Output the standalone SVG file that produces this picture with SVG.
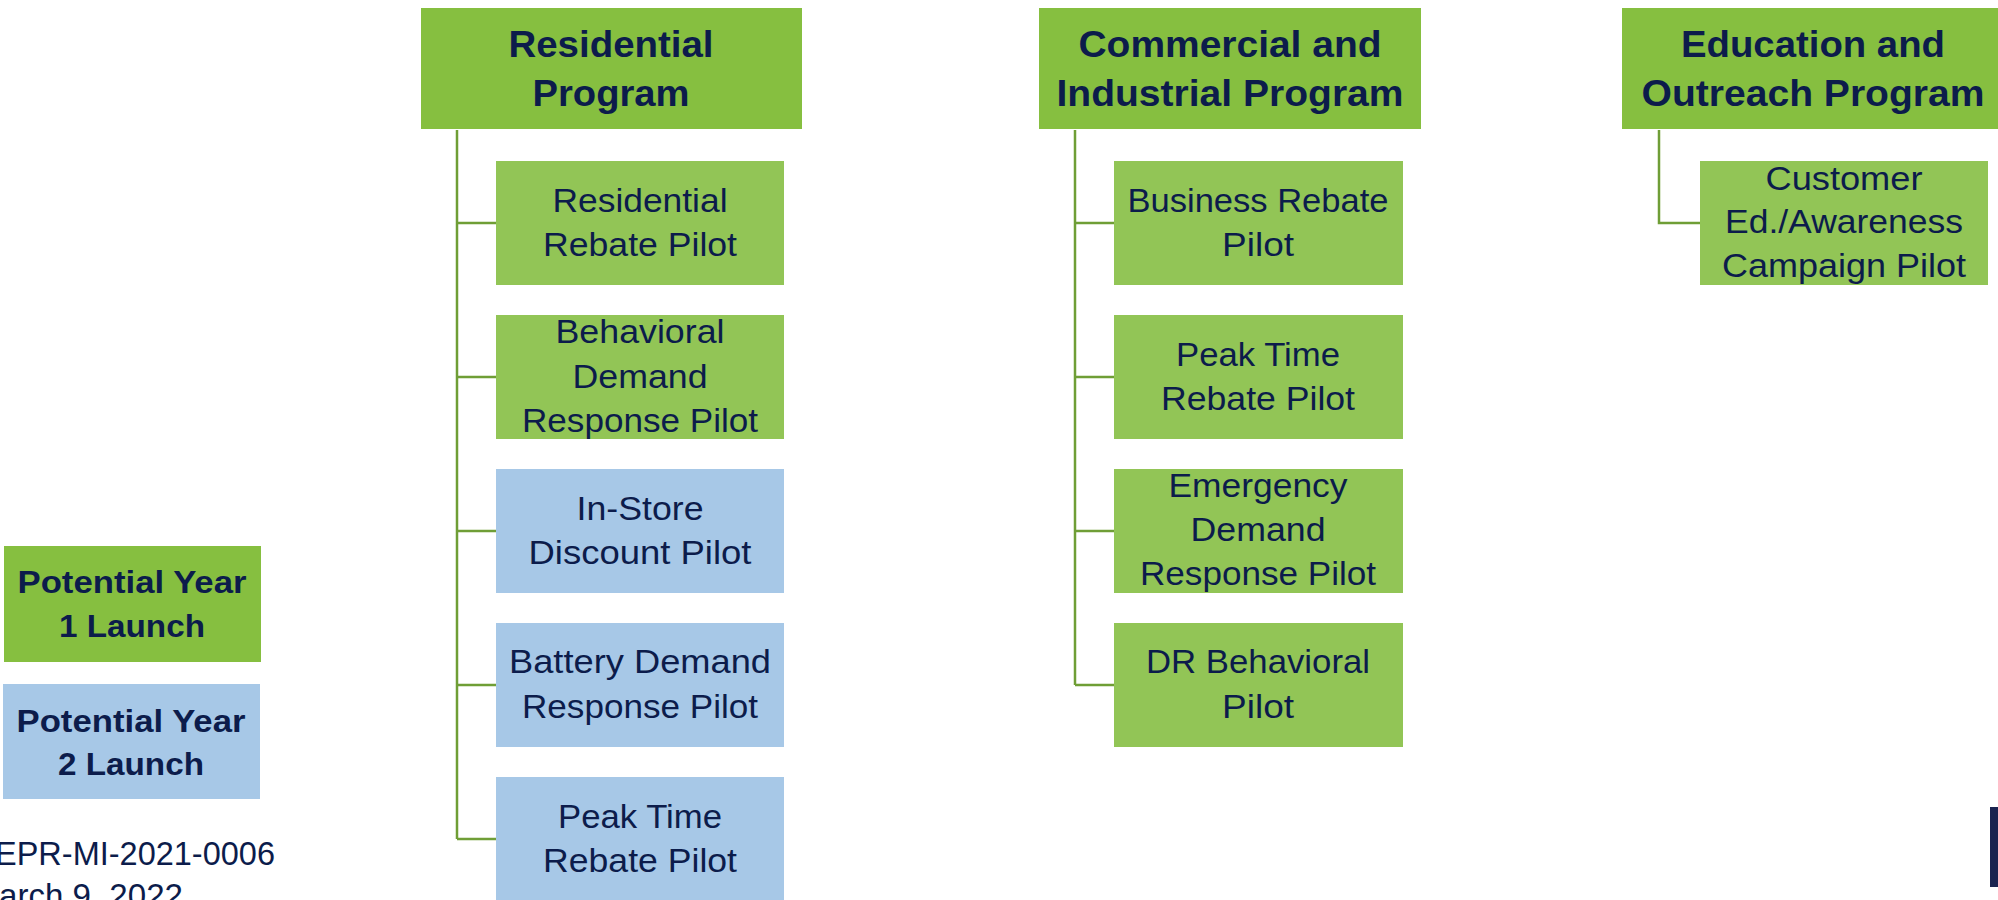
<svg xmlns="http://www.w3.org/2000/svg" width="1998" height="900" viewBox="0 0 1998 900">
<style>
.hdr{fill:#86bf40}
.g{fill:#92c556}
.b{fill:#a7c8e7}
.lg{fill:#86bf40}
text{font-family:"Liberation Sans",Arial,sans-serif;fill:#0c1c4b;text-anchor:middle}
.ht{font-size:36px;font-weight:bold}
.ct{font-size:33px}
.lt{font-size:32px;font-weight:bold}
.conn{stroke:#6f9e36;stroke-width:2.5;fill:none}
</style>
<rect width="1998" height="900" fill="#ffffff"/>
<g id="connectors">
<path class="conn" d="M457,130 V839 M457,223 H496 M457,377 H496 M457,531 H496 M457,685 H496 M457,839 H496"/>
<path class="conn" d="M1075,130 V685 M1075,223 H1114 M1075,377 H1114 M1075,531 H1114 M1075,685 H1114"/>
<path class="conn" d="M1659,130 V223 H1700"/>
</g>
<g id="residential-program">
<rect class="hdr" x="421" y="8" width="381" height="121"/>
<text class="ht" x="611" y="57" textLength="205" lengthAdjust="spacingAndGlyphs">Residential</text>
<text class="ht" x="611" y="106" textLength="157" lengthAdjust="spacingAndGlyphs">Program</text>
</g>
<g id="commercial-program">
<rect class="hdr" x="1039" y="8" width="382" height="121"/>
<text class="ht" x="1230" y="57" textLength="303" lengthAdjust="spacingAndGlyphs">Commercial and</text>
<text class="ht" x="1230" y="106" textLength="347" lengthAdjust="spacingAndGlyphs">Industrial Program</text>
</g>
<g id="education-program">
<rect class="hdr" x="1622" y="8" width="381" height="121"/>
<text class="ht" x="1813" y="57" textLength="264" lengthAdjust="spacingAndGlyphs">Education and</text>
<text class="ht" x="1813" y="106" textLength="343" lengthAdjust="spacingAndGlyphs">Outreach Program</text>
</g>
<g id="residential-rebate">
<rect class="g" x="496" y="161" width="288" height="124"/>
<text class="ct" x="640" y="212" textLength="175" lengthAdjust="spacingAndGlyphs">Residential</text>
<text class="ct" x="640" y="256" textLength="194" lengthAdjust="spacingAndGlyphs">Rebate Pilot</text>
</g>
<g id="behavioral-dr">
<rect class="g" x="496" y="315" width="288" height="124"/>
<text class="ct" x="640" y="343" textLength="169" lengthAdjust="spacingAndGlyphs">Behavioral</text>
<text class="ct" x="640" y="388" textLength="135" lengthAdjust="spacingAndGlyphs">Demand</text>
<text class="ct" x="640" y="432" textLength="236" lengthAdjust="spacingAndGlyphs">Response Pilot</text>
</g>
<g id="in-store-discount">
<rect class="b" x="496" y="469" width="288" height="124"/>
<text class="ct" x="640" y="520" textLength="127" lengthAdjust="spacingAndGlyphs">In-Store</text>
<text class="ct" x="640" y="564" textLength="223" lengthAdjust="spacingAndGlyphs">Discount Pilot</text>
</g>
<g id="battery-dr">
<rect class="b" x="496" y="623" width="288" height="124"/>
<text class="ct" x="640" y="673" textLength="262" lengthAdjust="spacingAndGlyphs">Battery Demand</text>
<text class="ct" x="640" y="718" textLength="236" lengthAdjust="spacingAndGlyphs">Response Pilot</text>
</g>
<g id="res-peak-time">
<rect class="b" x="496" y="777" width="288" height="124"/>
<text class="ct" x="640" y="828" textLength="164" lengthAdjust="spacingAndGlyphs">Peak Time</text>
<text class="ct" x="640" y="872" textLength="194" lengthAdjust="spacingAndGlyphs">Rebate Pilot</text>
</g>
<g id="business-rebate">
<rect class="g" x="1114" y="161" width="289" height="124"/>
<text class="ct" x="1258" y="212" textLength="261" lengthAdjust="spacingAndGlyphs">Business Rebate</text>
<text class="ct" x="1258" y="256" textLength="72" lengthAdjust="spacingAndGlyphs">Pilot</text>
</g>
<g id="ci-peak-time">
<rect class="g" x="1114" y="315" width="289" height="124"/>
<text class="ct" x="1258" y="366" textLength="164" lengthAdjust="spacingAndGlyphs">Peak Time</text>
<text class="ct" x="1258" y="410" textLength="194" lengthAdjust="spacingAndGlyphs">Rebate Pilot</text>
</g>
<g id="emergency-dr">
<rect class="g" x="1114" y="469" width="289" height="124"/>
<text class="ct" x="1258" y="497" textLength="179" lengthAdjust="spacingAndGlyphs">Emergency</text>
<text class="ct" x="1258" y="541" textLength="135" lengthAdjust="spacingAndGlyphs">Demand</text>
<text class="ct" x="1258" y="585" textLength="236" lengthAdjust="spacingAndGlyphs">Response Pilot</text>
</g>
<g id="dr-behavioral">
<rect class="g" x="1114" y="623" width="289" height="124"/>
<text class="ct" x="1258" y="673" textLength="224" lengthAdjust="spacingAndGlyphs">DR Behavioral</text>
<text class="ct" x="1258" y="718" textLength="72" lengthAdjust="spacingAndGlyphs">Pilot</text>
</g>
<g id="customer-ed">
<rect class="g" x="1700" y="161" width="288" height="124"/>
<text class="ct" x="1844" y="190" textLength="157" lengthAdjust="spacingAndGlyphs">Customer</text>
<text class="ct" x="1844" y="233" textLength="238" lengthAdjust="spacingAndGlyphs">Ed./Awareness</text>
<text class="ct" x="1844" y="277" textLength="244" lengthAdjust="spacingAndGlyphs">Campaign Pilot</text>
</g>
<g id="legend-year1">
<rect class="lg" x="4" y="546" width="257" height="116"/>
<text class="lt" x="132" y="593" textLength="229" lengthAdjust="spacingAndGlyphs">Potential Year</text>
<text class="lt" x="132" y="637" textLength="146" lengthAdjust="spacingAndGlyphs">1 Launch</text>
</g>
<g id="legend-year2">
<rect class="b" x="3" y="684" width="257" height="115"/>
<text class="lt" x="131" y="732" textLength="229" lengthAdjust="spacingAndGlyphs">Potential Year</text>
<text class="lt" x="131" y="775" textLength="146" lengthAdjust="spacingAndGlyphs">2 Launch</text>
</g>
<g id="footer">
<text class="ct" x="135" y="865" textLength="280" lengthAdjust="spacingAndGlyphs">EPR-MI-2021-0006</text>
<text class="ct" x="91" y="907" textLength="184" lengthAdjust="spacingAndGlyphs">arch 9, 2022</text>
<rect x="1990" y="807" width="8" height="80" fill="#1b2450"/>
</g>
</svg>
